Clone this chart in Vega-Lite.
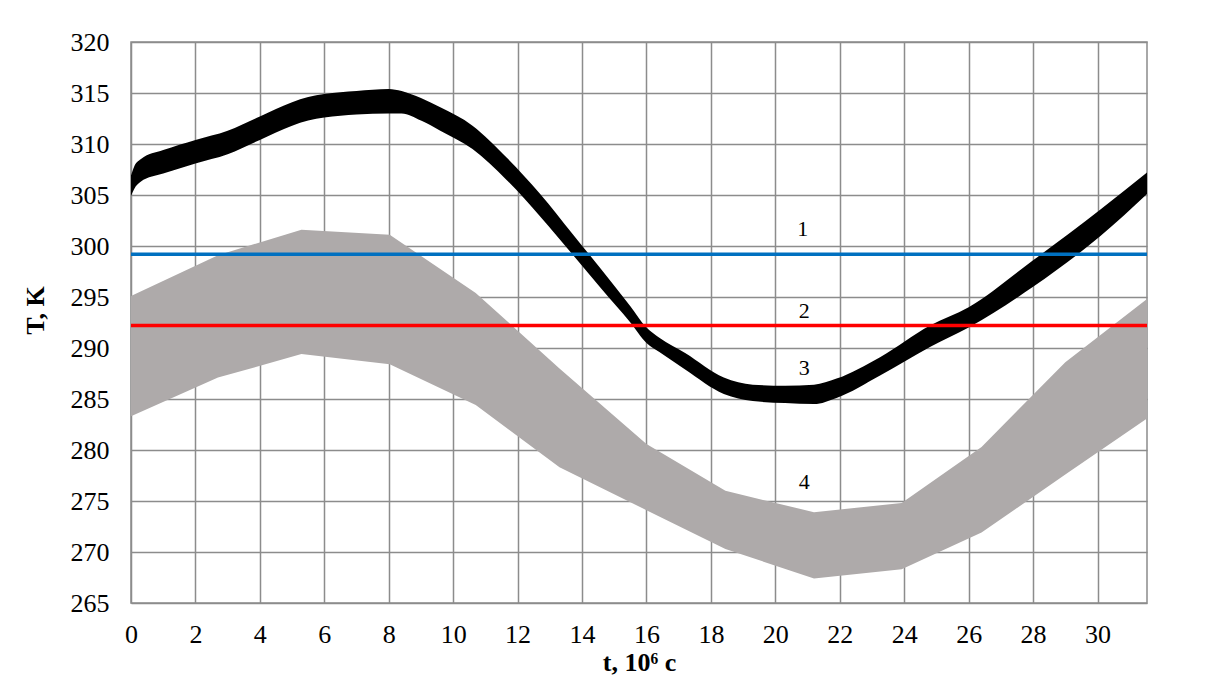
{
  "$schema": "https://vega.github.io/schema/vega-lite/v6.json",
  "autosize": {"type": "none"},
  "width": 1016,
  "height": 561,
  "padding": {"left": 131, "top": 42, "right": 66, "bottom": 90},
  "background": "#ffffff",
  "config": {
    "font": "Liberation Serif",
    "view": {"stroke": "#8c8c8c", "strokeWidth": 1.5},
    "axis": {
      "grid": true, "gridColor": "#8c8c8c", "gridWidth": 1.5, "gridOpacity": 1,
      "domain": false, "ticks": false,
      "labelFont": "Liberation Serif", "labelFontSize": 26, "labelColor": "#000000",
      "titleFont": "Liberation Serif", "titleFontSize": 26, "titleFontWeight": "bold", "titleColor": "#000000"
    }
  },
  "encoding": {
    "x": {"field": "t", "type": "quantitative",
          "scale": {"domain": [0, 31.536], "nice": false, "zero": false},
          "axis": {"values": [0,2,4,6,8,10,12,14,16,18,20,22,24,26,28,30],
                   "title": "t, 10⁶ c", "labelPadding": 18, "labelFlush": false,
                   "titleX": 508, "titleY": 59, "titleBaseline": "middle", "titleAlign": "center"}},
    "y": {"field": "T", "type": "quantitative",
          "scale": {"domain": [265, 320], "nice": false, "zero": false},
          "axis": {"values": [265,270,275,280,285,290,295,300,305,310,315,320],
                   "title": "T, K", "labelPadding": 22,
                   "titleX": -96, "titleY": 268, "titleAngle": -90, "titleBaseline": "middle", "titleAlign": "center"}}
  },
  "layer": [
    {
      "data": {"values": [
        {"t": 0, "T": 295.1, "T2": 283.3},
        {"t": 2.7, "T": 299.1, "T2": 287.1},
        {"t": 5.29, "T": 301.6, "T2": 289.4},
        {"t": 8.03, "T": 301.1, "T2": 288.4},
        {"t": 10.7, "T": 295.4, "T2": 284.4},
        {"t": 13.3, "T": 288.0, "T2": 278.3},
        {"t": 16.0, "T": 280.6, "T2": 274.1},
        {"t": 18.45, "T": 276.0, "T2": 270.3},
        {"t": 21.2, "T": 273.9, "T2": 267.4},
        {"t": 23.92, "T": 274.8, "T2": 268.3},
        {"t": 26.4, "T": 280.3, "T2": 271.9},
        {"t": 29.0, "T": 288.6, "T2": 277.6},
        {"t": 31.536, "T": 294.8, "T2": 283.1}
      ]},
      "mark": {"type": "area", "color": "#AEAAAA", "opacity": 1},
      "encoding": {"y2": {"field": "T2"}}
    },
    {
      "data": {"values": [
        {"t": 0, "T": 306.9, "T2": 304.9},
        {"t": 0.1, "T": 307.8, "T2": 305.6},
        {"t": 0.3, "T": 308.5, "T2": 306.3},
        {"t": 1, "T": 309.4, "T2": 307.1},
        {"t": 2, "T": 310.4, "T2": 308.1},
        {"t": 3, "T": 311.3, "T2": 309.0},
        {"t": 4, "T": 312.7, "T2": 310.4},
        {"t": 5, "T": 314.1, "T2": 311.8},
        {"t": 5.5, "T": 314.6, "T2": 312.3},
        {"t": 6, "T": 314.9, "T2": 312.6},
        {"t": 7, "T": 315.2, "T2": 312.9},
        {"t": 8, "T": 315.4, "T2": 313.0},
        {"t": 8.4, "T": 315.2, "T2": 313.0},
        {"t": 9, "T": 314.5, "T2": 312.3},
        {"t": 9.6, "T": 313.6, "T2": 311.3},
        {"t": 10.6, "T": 311.8, "T2": 309.5},
        {"t": 11.65, "T": 308.7, "T2": 306.5},
        {"t": 12.7, "T": 305.1, "T2": 302.9},
        {"t": 13.7, "T": 301.2, "T2": 299.2},
        {"t": 14.6, "T": 297.7, "T2": 295.8},
        {"t": 15.5, "T": 294.1, "T2": 292.5},
        {"t": 16.0, "T": 292.0, "T2": 290.5},
        {"t": 16.4, "T": 291.0, "T2": 289.6},
        {"t": 17.2, "T": 289.5, "T2": 287.9},
        {"t": 18.4, "T": 287.1, "T2": 285.5},
        {"t": 19.3, "T": 286.4, "T2": 284.8},
        {"t": 20.3, "T": 286.3, "T2": 284.6},
        {"t": 21.2, "T": 286.4, "T2": 284.5},
        {"t": 21.9, "T": 287.0, "T2": 285.1},
        {"t": 23.25, "T": 289.1, "T2": 287.3},
        {"t": 24.8, "T": 292.2, "T2": 290.1},
        {"t": 26.0, "T": 294.0, "T2": 292.0},
        {"t": 28.0, "T": 298.6, "T2": 296.0},
        {"t": 30.1, "T": 303.6, "T2": 301.0},
        {"t": 31.536, "T": 307.2, "T2": 305.1}
      ]},
      "mark": {"type": "area", "color": "#000000", "interpolate": "monotone", "opacity": 1},
      "encoding": {"y2": {"field": "T2"}}
    },
    {
      "data": {"values": [
        {"series": "1", "t": 0, "T": 299.2},
        {"series": "1", "t": 31.536, "T": 299.2},
        {"series": "2", "t": 0, "T": 292.2},
        {"series": "2", "t": 31.536, "T": 292.2}
      ]},
      "mark": {"type": "line", "strokeWidth": 3.5},
      "encoding": {
        "color": {"field": "series", "type": "nominal", "scale": {"domain": ["1", "2"], "range": ["#0070C0", "#FF0000"]}, "legend": null}
      }
    },
    {
      "data": {"values": [
        {"label": "1", "t": 20.85, "T": 301.7},
        {"label": "2", "t": 20.9, "T": 293.6},
        {"label": "3", "t": 20.9, "T": 288.0},
        {"label": "4", "t": 20.9, "T": 276.9}
      ]},
      "mark": {"type": "text", "font": "Liberation Serif", "fontSize": 22, "color": "#000000", "align": "center", "baseline": "middle"},
      "encoding": {"text": {"field": "label"}}
    }
  ]
}
